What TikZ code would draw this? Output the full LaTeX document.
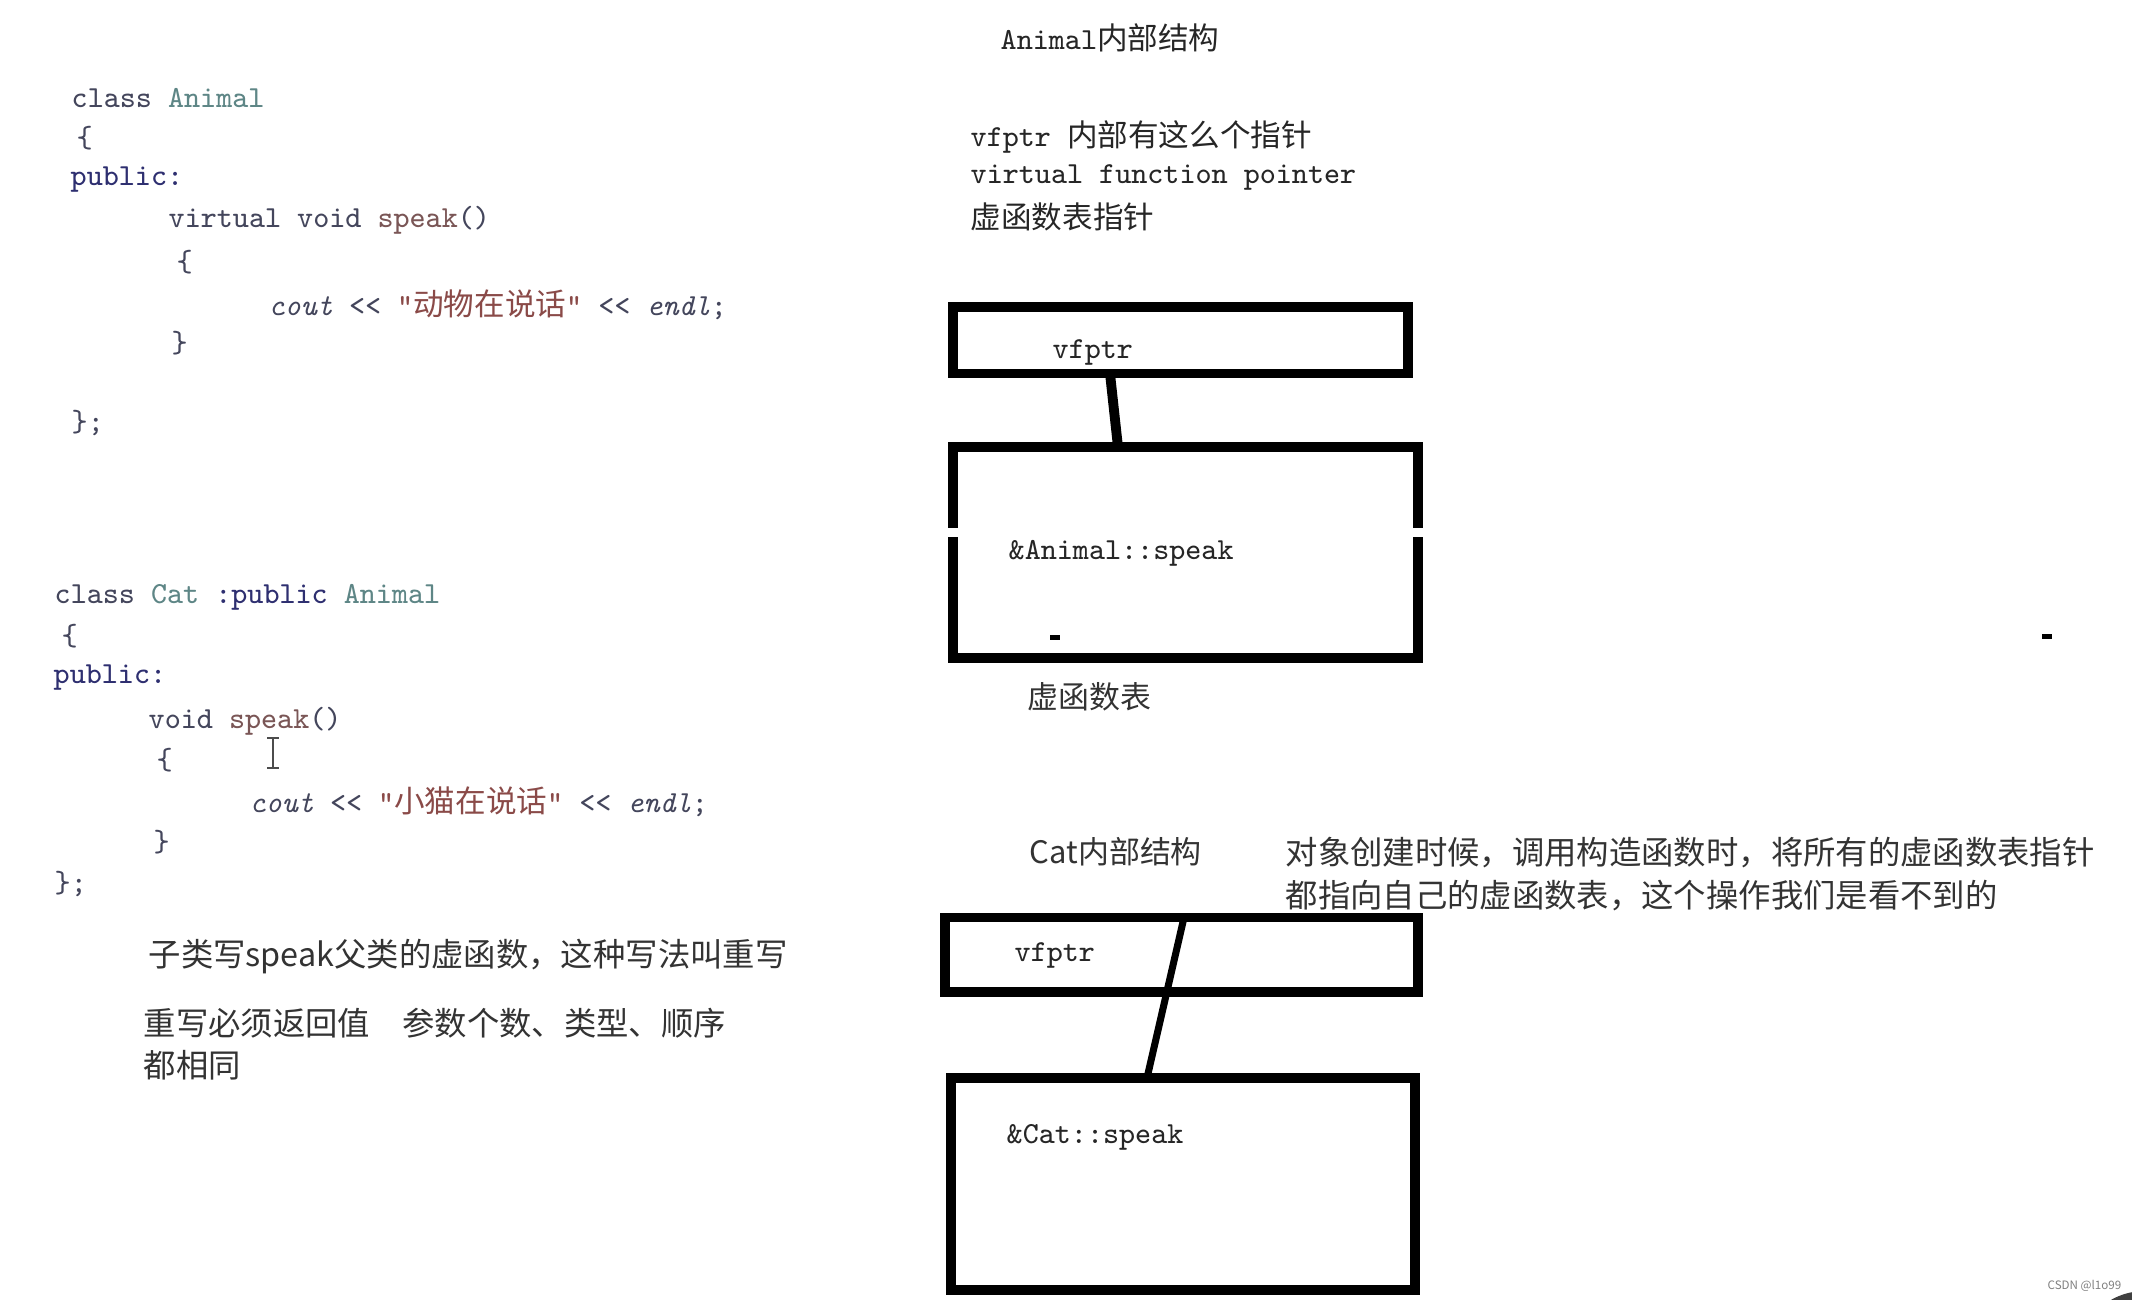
\documentclass[tikz,border=0pt]{standalone}
\usepackage{fontspec}
\usepackage{tikz}
\newfontfamily\cjk{Noto Sans CJK SC}

\definecolor{kwcol}{HTML}{44465C}
\definecolor{typcol}{HTML}{5E8686}
\definecolor{pubcol}{HTML}{2E2F70}
\definecolor{fncol}{HTML}{7A5656}
\definecolor{strcol}{HTML}{8A4A48}
\definecolor{txtcol}{HTML}{262626}
\definecolor{notecol}{HTML}{333333}

\begin{document}
\begin{tikzpicture}[x=0.01cm, y=-0.01cm,
  code/.style={anchor=west, inner sep=0pt, text=kwcol,
    font=\ttfamily\fontsize{8.7}{10}\selectfont},
  note/.style={anchor=west, inner sep=0pt, text=notecol,
    font=\cjk\fontsize{9.2}{11}\selectfont},
  membox/.style={draw, line width=2.8pt, inner sep=0pt},
  link/.style={line width=2.8pt}]
  \useasboundingbox (0,0) rectangle (2132,1300);
  \fill[white] (0,0) rectangle (2132,1300);

  % class Animal
  \node[code] (a1) at (71,98) {class \textcolor{typcol}{Animal}};
  \node[code] (a2) at (76,138) {\{};
  \node[code] (a3) at (70,180) {\textcolor{pubcol}{public:}};
  \node[code] (a4) at (168,220) {virtual void \textcolor{fncol}{speak}()};
  \node[code] (a5) at (176,262) {\{};
  \node[code] (a6) at (268,305) {\textit{cout} << \textcolor{strcol}{"{\cjk 动物在说话}"} << \textit{endl};};
  \node[code] (a7) at (171,343) {\}};
  \node[code] (a8) at (71,423) {\};};

  % class Cat
  \node[code] (c1) at (54,597) {class \textcolor{typcol}{Cat} \textcolor{pubcol}{:public} \textcolor{typcol}{Animal}};
  \node[code] (c2) at (61,636) {\{};
  \node[code] (c3) at (53,678) {\textcolor{pubcol}{public:}};
  \node[code] (c4) at (148,721) {void \textcolor{fncol}{speak}()};
  \node[code] (c5) at (156,760) {\{};
  \node[code] (c6) at (249,802) {\textit{cout} << \textcolor{strcol}{"{\cjk 小猫在说话}"} << \textit{endl};};
  \node[code] (c7) at (153,842) {\}};
  \node[code] (c8) at (54,884) {\};};
  \draw[black!70, line width=0.6pt] (273,738) -- (273,768)
    (267,738) -- (279,738) (267,768) -- (279,768);

  % notes
  \node[note] (n1) at (148,957) {子类写speak父类的虚函数，这种写法叫重写};
  \node[note] (n2) at (143,1023) {重写必须返回值　参数个数、类型、顺序};
  \node[note] (n3) at (143,1065) {都相同};

  % Animal layout
  \node[code, text=txtcol] (anititle) at (1000,38) {Animal{\cjk 内部结构}};
  \node[code, text=txtcol] (vf1) at (970,137) {vfptr {\cjk 内部有这么个指针}};
  \node[code, text=txtcol] (vf2) at (970,177) {virtual function pointer};
  \node[code, text=txtcol] (vf3) at (970,217) {{\cjk 虚函数表指针}};

  \node[membox, minimum width=4.545cm, minimum height=0.665cm] (aniptr) at (1180.25,340.25) {};
  \node[code, text=txtcol] (aniptrlbl) at (1052,352) {vfptr};
  \node[membox, minimum width=4.65cm, minimum height=2.11cm] (anitab) at (1185.5,552.5) {};
  \draw[white, line width=3.4pt] (953,528) -- (953,537) (1418,528) -- (1418,537);
  \node[code, text=txtcol] (anitabfn) at (1008,553) {\&Animal::speak};
  \fill (1050,635) rectangle (1060,640);
  \fill (2042,634) rectangle (2052,639);
  \node[note, font=\cjk\fontsize{8.8}{11}\selectfont] (anitablbl) at (1027,697) {虚函数表};
  \coordinate (anilinkA) at (1110,373.5);
  \coordinate (anilinkB) at (1118,447);
  \draw[link] (anilinkA) -- (anilinkB);

  % Cat layout
  \node[note, font=\cjk\fontsize{8.8}{11}\selectfont] (cattitle) at (1029,852) {Cat内部结构};
  \node[note] (para1) at (1285,853) {对象创建时候，调用构造函数时，将所有的虚函数表指针};
  \node[note] (para2) at (1285,896) {都指向自己的虚函数表，这个操作我们是看不到的};

  \node[membox, minimum width=4.73cm, minimum height=0.745cm] (catptr) at (1181.5,954.75) {};
  \node[code, text=txtcol] (catptrlbl) at (1014,955) {vfptr};
  \node[membox, minimum width=4.64cm, minimum height=2.12cm] (cattab) at (1183,1184) {};
  \node[code, text=txtcol] (cattabfn) at (1006,1137) {\&Cat::speak};
  \coordinate (catlinkA) at (1184,917.5);
  \coordinate (catlinkB) at (1147,1078);
  \draw[link, line width=2pt] (catlinkA) -- (catlinkB);

  % corner
  \node[anchor=west, inner sep=0pt, text=black!50, font=\cjk\fontsize{3.3}{4}\selectfont] (mark) at (2047,1286) {CSDN @l1o99};
  \begin{scope}
    \clip (0,0) rectangle (2132,1300);
    \fill[black!75] (2145,1360) circle[radius=0.69cm];
  \end{scope}
\end{tikzpicture}
\end{document}
